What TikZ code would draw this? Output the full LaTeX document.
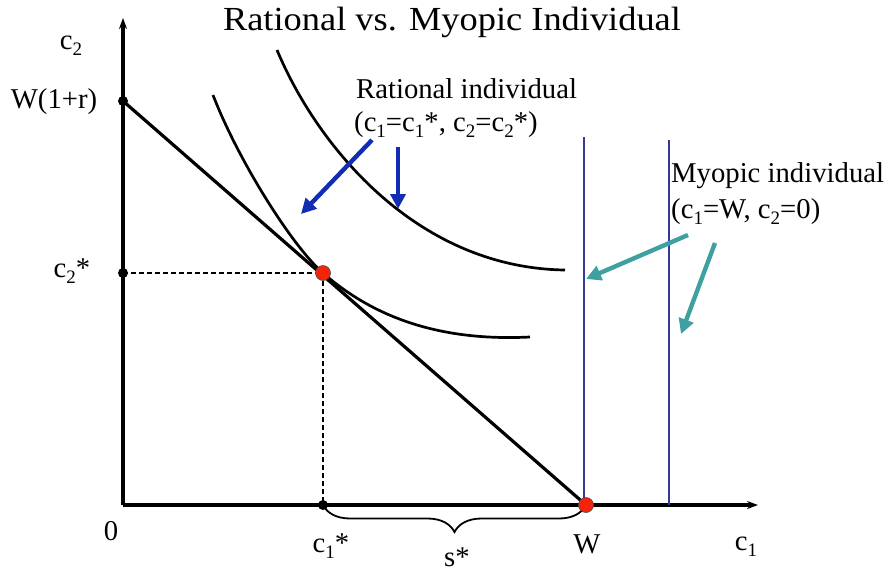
\documentclass[tikz,border=0pt]{standalone}
\usepackage{fontspec}
\setmainfont{Liberation Serif}
\usetikzlibrary{arrows.meta,decorations.pathreplacing}
\definecolor{navyline}{RGB}{55,55,150}
\definecolor{bluearr}{RGB}{18,45,180}
\definecolor{tealarr}{RGB}{62,160,160}
\definecolor{reddot}{RGB}{245,35,10}
\newcommand\lo[1]{\raisebox{-0.45ex}{\fontsize{19}{19}\selectfont #1}}
\tikzset{
  lbl/.style={inner sep=0pt, font=\fontsize{28.7}{32}\selectfont},
  axis/.style={line width=3.2pt, -{Stealth[length=11pt,width=8pt]}},
  budget/.style={line width=3.2pt},
  indiff/.style={line width=2.7pt},
  guide/.style={line width=1.5pt, dash pattern=on 5pt off 3pt},
  myline/.style={line width=2.4pt, navyline},
  bluearrow/.style={line width=4.4pt, bluearr, -{Triangle[length=15pt,width=15pt]}},
  tealarrow/.style={line width=4.4pt, tealarr, -{Triangle[length=15pt,width=15pt]}},
  bdot/.style={circle, fill=black, inner sep=0pt, minimum size=10pt},
  rdot/.style={circle, fill=reddot, draw=black!70, line width=0.6pt, inner sep=0pt, minimum size=15pt},
}
\begin{document}
\begin{tikzpicture}[x=1pt,y=-1pt]
\useasboundingbox (0,0) rectangle (892,574);
% key points
\coordinate (O) at (123,505);
\coordinate (ytop) at (123,18);
\coordinate (xend) at (758,505);
\coordinate (Wr) at (123,101);
\coordinate (Wp) at (586,505);
\coordinate (C2) at (123,273);
\coordinate (E) at (323,273);
\coordinate (C1) at (323,505);
% title
\node[inner sep=0pt, xscale=1.08, font=\fontsize{33.7}{38}\selectfont] (title) at (452,22) {Rational vs. Myopic Individual};
% axes
\draw[axis] (O) -- (ytop);
\draw[axis] (O) -- (xend);
% myopic vertical lines
\coordinate (m1t) at (584,137);
\coordinate (m1b) at (584,505);
\coordinate (m2t) at (669,140);
\coordinate (m2b) at (669,505);
\draw[myline] (m1t) -- (m1b);
\draw[myline] (m2t) -- (m2b);
% budget line
\draw[budget] (Wr) -- (Wp);
% guides
\draw[guide] (C2) -- (E);
\draw[guide] (E) -- (C1);
% indifference curves
\coordinate (i1a) at (213,95);
\coordinate (i1b) at (530,337);
\coordinate (i2a) at (277,50);
\coordinate (i2b) at (565,270);
\draw[indiff] (i1a) .. controls (238,160) and (292,246) .. (E)
  .. controls (380,323) and (450,341) .. (i1b);
\draw[indiff] (i2a) .. controls (318,148) and (418,268) .. (i2b);
% brace
\draw[line width=1.8pt, decorate, decoration={brace, mirror, amplitude=27pt}] (C1) -- (Wp);
% dots
\node[bdot] (dWr) at (Wr) {};
\node[bdot] (dC2) at (C2) {};
\node[bdot] (dC1) at (C1) {};
\node[rdot] (dE) at (E) {};
\node[rdot] (dW) at (Wp) {};
% axis labels
\node[lbl] (lc2) at (71,46) {c\lo{2}};
\node[lbl] (lWr) at (54,102) {W(1+r)};
\node[lbl] (lc2s) at (72,271) {c\lo{2}*};
\node[lbl] (l0) at (111,531) {0};
\node[lbl] (lc1s) at (331,546) {c\lo{1}*};
\node[lbl] (lW) at (587,544) {W};
\node[lbl] (lc1) at (746,547) {c\lo{1}};
\node[lbl] (ls) at (457,557) {s*};
% annotations
\node[lbl, anchor=west] (rat1) at (356,89) {Rational individual};
\node[lbl, anchor=west] (rat2) at (354,125) {(c\lo{1}=c\lo{1}*, c\lo{2}=c\lo{2}*)};
\node[lbl, anchor=west] (myo1) at (671,176) {Myopic individual};
\node[lbl, anchor=west] (myo2) at (671,212) {(c\lo{1}=W, c\lo{2}=0)};
% arrows
\coordinate (ba1s) at (372,140);
\coordinate (ba1e) at (301,214);
\coordinate (ba2s) at (398,147);
\coordinate (ba2e) at (398,209);
\draw[bluearrow] (ba1s) -- (ba1e);
\draw[bluearrow] (ba2s) -- (ba2e);
\coordinate (ta1s) at (688,235);
\coordinate (ta1e) at (586,279);
\coordinate (ta2s) at (715,243);
\coordinate (ta2e) at (681,334);
\draw[tealarrow] (ta1s) -- (ta1e);
\draw[tealarrow] (ta2s) -- (ta2e);
\end{tikzpicture}
\end{document}
